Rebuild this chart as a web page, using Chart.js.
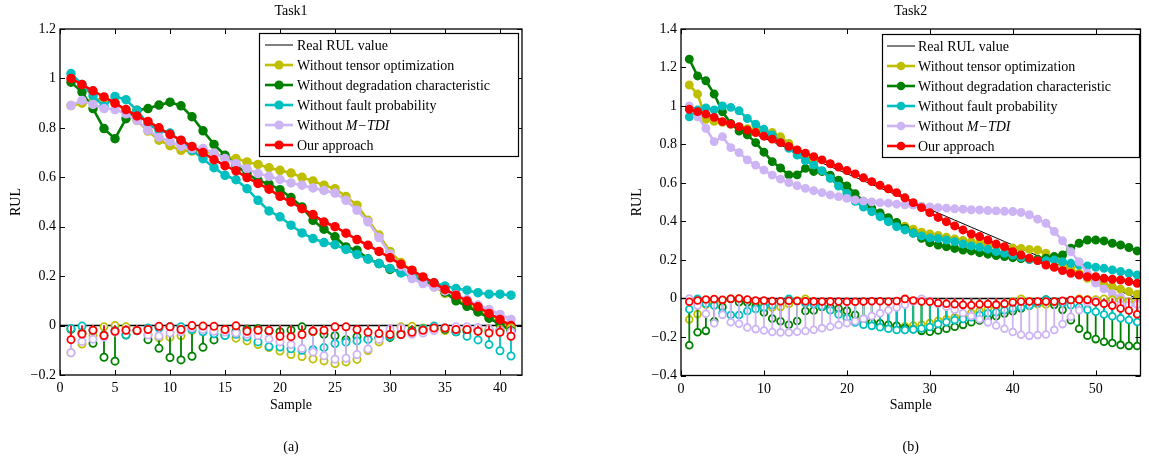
<!DOCTYPE html>
<html>
<head>
<meta charset="utf-8">
<script src="https://cdn.jsdelivr.net/npm/chart.js@4.4.1/dist/chart.umd.min.js"></script>
<style>
  html, body { margin: 0; padding: 0; background: #fff; }
  #wrap { position: relative; width: 1149px; height: 462px; overflow: hidden; }
  canvas { position: absolute; top: 0; }
</style>
</head>
<body>
<div id="wrap">
  <canvas id="task1" width="575" height="462" style="left:0px"></canvas>
  <canvas id="task2" width="574" height="462" style="left:575px"></canvas>
</div>
<script>
// ---------- Task1 data ----------
const task1Samples = [1,2,3,4,5,6,7,8,9,10,11,12,13,14,15,16,17,18,19,20,21,22,23,24,25,26,27,28,29,30,31,32,33,34,35,36,37,38,39,40,41];
const task1Real = [1.000,0.975,0.950,0.925,0.900,0.875,0.850,0.825,0.800,0.775,0.750,0.725,0.700,0.675,0.650,0.625,0.600,0.575,0.550,0.525,0.500,0.475,0.450,0.425,0.400,0.375,0.350,0.325,0.300,0.275,0.250,0.225,0.200,0.175,0.150,0.125,0.100,0.075,0.050,0.025,0.000];
const task1Tensor = [0.89,0.90,0.91,0.92,0.90,0.87,0.83,0.787,0.75,0.728,0.709,0.706,0.705,0.696,0.682,0.676,0.662,0.652,0.639,0.628,0.617,0.60,0.585,0.568,0.554,0.522,0.487,0.426,0.366,0.30,0.255,0.222,0.19,0.16,0.13,0.105,0.085,0.06,0.035,0.01,-0.01];
const task1Degrad = [0.985,0.945,0.878,0.797,0.756,0.837,0.871,0.878,0.892,0.904,0.889,0.845,0.788,0.733,0.689,0.648,0.615,0.588,0.572,0.55,0.518,0.48,0.426,0.39,0.359,0.318,0.305,0.27,0.251,0.227,0.22,0.205,0.18,0.16,0.135,0.10,0.078,0.055,0.03,0.005,-0.02];
const task1Fault = [1.02,0.975,0.93,0.887,0.927,0.914,0.87,0.815,0.79,0.779,0.745,0.709,0.675,0.639,0.608,0.59,0.554,0.507,0.464,0.44,0.406,0.375,0.352,0.336,0.327,0.308,0.288,0.269,0.251,0.231,0.213,0.20,0.187,0.173,0.16,0.15,0.143,0.133,0.127,0.127,0.123];
const task1Mtdi = [0.89,0.911,0.895,0.878,0.874,0.857,0.83,0.79,0.762,0.745,0.725,0.716,0.716,0.698,0.676,0.655,0.635,0.615,0.604,0.591,0.577,0.568,0.557,0.547,0.536,0.507,0.467,0.42,0.356,0.29,0.24,0.19,0.17,0.155,0.14,0.125,0.105,0.083,0.065,0.045,0.025];
const task1Ours = [1.0,0.975,0.95,0.925,0.90,0.874,0.848,0.826,0.80,0.774,0.75,0.725,0.70,0.671,0.647,0.626,0.599,0.575,0.552,0.523,0.50,0.473,0.449,0.419,0.40,0.374,0.348,0.325,0.30,0.274,0.248,0.224,0.197,0.173,0.146,0.123,0.099,0.076,0.049,0.025,0.0];

// prediction errors (stems)
const task1TensorErr = [-0.11,-0.075,-0.04,-0.005,0,-0.005,-0.02,-0.038,-0.05,-0.047,-0.041,-0.019,-0.005,-0.021,-0.032,-0.051,-0.062,-0.077,-0.089,-0.103,-0.117,-0.125,-0.135,-0.143,-0.154,-0.147,-0.137,-0.101,-0.066,-0.025,-0.005,-0.003,-0.01,-0.015,-0.02,-0.02,-0.015,-0.015,-0.015,-0.015,-0.01];
const task1DegradErr = [-0.015,-0.03,-0.072,-0.128,-0.144,-0.038,-0.021,-0.057,-0.092,-0.129,-0.139,-0.124,-0.088,-0.058,-0.039,-0.023,-0.015,-0.013,-0.022,-0.025,-0.018,-0.005,-0.024,-0.035,-0.041,-0.057,-0.045,-0.055,-0.049,-0.048,-0.03,-0.02,-0.02,-0.015,-0.015,-0.025,-0.022,-0.02,-0.02,-0.02,-0.02];
const task1FaultErr = [-0.012,-0.002,-0.02,-0.038,-0.02,-0.037,-0.02,-0.01,-0.01,-0.004,-0.005,-0.016,-0.025,-0.033,-0.04,-0.035,-0.046,-0.066,-0.085,-0.087,-0.094,-0.1,-0.098,-0.089,-0.073,-0.067,-0.062,-0.056,-0.049,-0.044,-0.037,-0.025,-0.013,-0.002,-0.01,-0.025,-0.043,-0.058,-0.077,-0.102,-0.123];
const task1MtdiErr = [-0.11,-0.064,-0.055,-0.047,-0.026,-0.018,-0.02,-0.038,-0.042,-0.03,-0.025,-0.009,-0.016,-0.023,-0.026,-0.03,-0.035,-0.04,-0.054,-0.066,-0.077,-0.093,-0.107,-0.122,-0.136,-0.132,-0.117,-0.095,-0.056,-0.015,-0.01,-0.035,-0.03,-0.02,-0.01,-0.005,-0.005,-0.008,-0.015,-0.02,-0.025];
const task1OursErr = [-0.057,-0.034,-0.019,-0.04,-0.023,-0.019,-0.02,-0.016,-0.003,-0.005,-0.016,0,-0.002,-0.003,-0.016,-0.001,-0.023,-0.019,-0.02,-0.043,-0.045,-0.036,-0.023,-0.019,-0.005,-0.005,-0.016,-0.027,-0.032,-0.036,-0.036,-0.027,-0.019,-0.01,-0.01,-0.016,-0.016,-0.023,-0.03,-0.027,-0.043];

const task1XTicks = [0,5,10,15,20,25,30,35,40];
const task1YTicks = [-0.2,0,0.2,0.4,0.6,0.8,1,1.2];

// ---------- Task2 data ----------
const task2Samples = [1,2,3,4,5,6,7,8,9,10,11,12,13,14,15,16,17,18,19,20,21,22,23,24,25,26,27,28,29,30,31,32,33,34,35,36,37,38,39,40,41,42,43,44,45,46,47,48,49,50,51,52,53,54,55];
const task2Real = [1.000,0.981,0.963,0.944,0.926,0.907,0.889,0.870,0.852,0.833,0.815,0.796,0.778,0.759,0.741,0.722,0.704,0.685,0.667,0.648,0.630,0.611,0.593,0.574,0.556,0.537,0.519,0.500,0.481,0.463,0.444,0.426,0.407,0.389,0.370,0.352,0.333,0.315,0.296,0.278,0.259,0.241,0.222,0.204,0.185,0.167,0.148,0.130,0.111,0.093,0.074,0.056,0.037,0.019,0.000];
const task2Tensor = [1.109,1.062,0.931,0.92,0.915,0.905,0.89,0.882,0.875,0.87,0.862,0.84,0.806,0.77,0.74,0.70,0.66,0.625,0.59,0.555,0.515,0.49,0.465,0.44,0.415,0.392,0.375,0.36,0.345,0.335,0.328,0.318,0.31,0.302,0.295,0.287,0.28,0.273,0.266,0.262,0.26,0.255,0.252,0.235,0.209,0.183,0.157,0.131,0.105,0.087,0.075,0.062,0.048,0.036,0.022];
const task2Degrad = [1.243,1.156,1.131,1.062,0.97,0.91,0.87,0.85,0.81,0.76,0.711,0.678,0.642,0.642,0.676,0.66,0.66,0.64,0.615,0.585,0.545,0.505,0.47,0.445,0.42,0.395,0.365,0.34,0.313,0.29,0.278,0.269,0.26,0.252,0.247,0.238,0.23,0.223,0.218,0.212,0.207,0.203,0.204,0.209,0.218,0.226,0.261,0.287,0.304,0.304,0.299,0.287,0.278,0.265,0.247];
const task2Fault = [0.944,0.979,0.99,0.98,1.0,0.993,0.975,0.935,0.906,0.879,0.85,0.81,0.78,0.745,0.716,0.694,0.664,0.624,0.584,0.546,0.505,0.475,0.451,0.425,0.399,0.373,0.356,0.339,0.325,0.315,0.312,0.304,0.295,0.283,0.273,0.266,0.256,0.244,0.235,0.226,0.214,0.204,0.197,0.197,0.2,0.191,0.183,0.174,0.169,0.162,0.157,0.148,0.14,0.131,0.122];
const task2Mtdi = [1.0,0.944,0.884,0.815,0.841,0.784,0.758,0.72,0.693,0.667,0.641,0.62,0.602,0.586,0.572,0.56,0.55,0.538,0.529,0.52,0.512,0.506,0.502,0.498,0.495,0.49,0.487,0.485,0.48,0.476,0.472,0.469,0.466,0.464,0.461,0.46,0.457,0.455,0.453,0.452,0.447,0.435,0.412,0.391,0.348,0.3,0.243,0.191,0.131,0.08,0.05,0.025,0.005,-0.015,-0.03];
const task2Ours = [0.983,0.971,0.958,0.941,0.919,0.906,0.893,0.875,0.862,0.843,0.828,0.81,0.79,0.772,0.755,0.737,0.72,0.70,0.683,0.665,0.647,0.627,0.607,0.588,0.57,0.55,0.523,0.498,0.472,0.446,0.421,0.399,0.377,0.356,0.335,0.322,0.304,0.283,0.269,0.243,0.226,0.209,0.197,0.174,0.162,0.145,0.131,0.122,0.113,0.113,0.105,0.1,0.096,0.088,0.079];

const task2TensorErr = [-0.109,-0.081,-0.032,-0.024,-0.011,-0.002,-0.001,-0.012,-0.023,-0.037,-0.047,-0.044,-0.028,-0.011,-0.001,-0.022,-0.044,-0.06,-0.077,-0.093,-0.115,-0.121,-0.128,-0.134,-0.141,-0.145,-0.144,-0.14,-0.136,-0.128,-0.116,-0.108,-0.097,-0.087,-0.075,-0.065,-0.053,-0.042,-0.03,-0.016,-0.001,-0.014,-0.03,-0.031,-0.024,-0.016,-0.009,-0.001,-0.006,-0.006,-0.001,-0.006,-0.011,-0.017,-0.022];
const task2DegradErr = [-0.243,-0.175,-0.168,-0.118,-0.044,-0.003,-0.019,-0.02,-0.042,-0.073,-0.104,-0.118,-0.136,-0.117,-0.065,-0.062,-0.044,-0.045,-0.052,-0.063,-0.085,-0.106,-0.123,-0.129,-0.136,-0.142,-0.154,-0.16,-0.168,-0.173,-0.166,-0.157,-0.147,-0.137,-0.123,-0.114,-0.103,-0.092,-0.078,-0.066,-0.052,-0.038,-0.018,-0.005,-0.033,-0.059,-0.113,-0.157,-0.193,-0.211,-0.225,-0.231,-0.241,-0.246,-0.247];
const task2FaultErr = [-0.056,-0.002,-0.027,-0.036,-0.074,-0.086,-0.086,-0.065,-0.054,-0.046,-0.035,-0.014,-0.002,-0.014,-0.025,-0.028,-0.04,-0.061,-0.083,-0.102,-0.125,-0.136,-0.142,-0.149,-0.157,-0.164,-0.163,-0.161,-0.156,-0.148,-0.132,-0.122,-0.112,-0.106,-0.097,-0.086,-0.077,-0.071,-0.061,-0.052,-0.045,-0.037,-0.025,-0.007,-0.015,-0.024,-0.035,-0.044,-0.058,-0.069,-0.083,-0.092,-0.103,-0.112,-0.122];
const task2MtdiErr = [0,-0.037,-0.079,-0.129,-0.085,-0.123,-0.131,-0.15,-0.159,-0.166,-0.174,-0.176,-0.176,-0.173,-0.169,-0.162,-0.154,-0.147,-0.138,-0.128,-0.118,-0.105,-0.091,-0.076,-0.061,-0.047,-0.032,-0.015,-0.001,-0.013,-0.028,-0.043,-0.059,-0.075,-0.091,-0.108,-0.124,-0.14,-0.157,-0.174,-0.188,-0.194,-0.19,-0.187,-0.163,-0.133,-0.095,-0.061,-0.02,-0.013,-0.024,-0.031,-0.032,-0.034,-0.03];
const task2OursErr = [-0.017,-0.01,-0.005,-0.003,-0.007,-0.001,0,-0.005,-0.01,-0.01,-0.013,-0.014,-0.012,-0.013,-0.014,-0.015,-0.016,-0.015,-0.016,-0.017,-0.017,-0.016,-0.014,-0.014,-0.016,-0.013,-0.002,-0.01,-0.016,-0.017,-0.023,-0.027,-0.03,-0.033,-0.035,-0.03,-0.029,-0.032,-0.027,-0.02,-0.016,-0.016,-0.016,-0.016,-0.016,-0.012,-0.008,-0.006,-0.007,-0.018,-0.027,-0.037,-0.052,-0.062,-0.082];

const task2XTicks = [0,10,20,30,40,50];
const task2YTicks = [-0.4,-0.2,0,0.2,0.4,0.6,0.8,1,1.2,1.4];

// ---------- styling ----------
const FONT = '"Liberation Serif", "Times New Roman", serif';
const COLORS = {
  real: '#000000',
  tensor: '#bfbf00',
  degrad: '#008000',
  fault: '#00bfbf',
  mtdi: '#cdb4f5',
  ours: '#ff0000'
};
const LEGEND_ITEMS = [
  { key: 'real', parts: [['Real RUL value', false]], marker: false },
  { key: 'tensor', parts: [['Without tensor optimization', false]], marker: true },
  { key: 'degrad', parts: [['Without degradation characteristic', false]], marker: true },
  { key: 'fault', parts: [['Without fault probability', false]], marker: true },
  { key: 'mtdi', parts: [['Without ', false], ['M\u2212TDI', true]], marker: true },
  { key: 'ours', parts: [['Our approach', false]], marker: true }
];

function fmtTick(v) {
  return (+Number(v).toFixed(1)).toString().replace('-', '\u2212');
}

function points(xs, ys) {
  return xs.map((x, i) => ({ x: x, y: ys[i] }));
}

// stem: baseline point, tip point, gap
function stems(xs, ys) {
  const out = [];
  xs.forEach((x, i) => {
    out.push({ x: x, y: 0 });
    out.push({ x: x, y: ys[i] });
    out.push({ x: x, y: null });
  });
  return out;
}

function makeChart(id, cfg) {
  const lineDs = (key, ys, order) => ({
    type: 'line',
    data: points(cfg.samples, ys),
    borderColor: COLORS[key],
    backgroundColor: COLORS[key],
    borderWidth: cfg.lineWidth,
    pointRadius: cfg.markerRadius,
    pointBorderWidth: 1.5,
    pointBackgroundColor: COLORS[key],
    pointBorderColor: COLORS[key],
    tension: 0,
    order: order
  });
  const stemDs = (key, ys, order) => ({
    type: 'line',
    data: stems(cfg.samples, ys),
    borderColor: COLORS[key],
    borderWidth: 1.8,
    spanGaps: false,
    pointRadius: (c) => (c.dataIndex % 3 === 1 ? cfg.stemRadius : 0),
    pointBorderWidth: 1.8,
    pointBackgroundColor: '#ffffff',
    pointBorderColor: COLORS[key],
    order: order
  });

  const datasets = [
    { type: 'line', data: points(cfg.samples, cfg.real), borderColor: '#000', borderWidth: 1, pointRadius: 0, order: 20 },
    lineDs('tensor', cfg.tensor, 19),
    lineDs('degrad', cfg.degrad, 18),
    lineDs('fault', cfg.fault, 17),
    lineDs('mtdi', cfg.mtdi, 16),
    lineDs('ours', cfg.ours, 15),
    stemDs('tensor', cfg.tensorErr, 14),
    stemDs('degrad', cfg.degradErr, 13),
    stemDs('fault', cfg.faultErr, 12),
    stemDs('mtdi', cfg.mtdiErr, 11),
    stemDs('ours', cfg.oursErr, 10)
  ];

  const decor = {
    id: 'decor_' + id,
    beforeDatasetsDraw(chart) {
      const { ctx, chartArea: a, scales: { y } } = chart;
      const y0 = y.getPixelForValue(0);
      ctx.save();
      ctx.strokeStyle = '#000';
      ctx.lineWidth = 1.5;
      ctx.beginPath();
      ctx.moveTo(a.left, y0);
      ctx.lineTo(a.right, y0);
      ctx.stroke();
      ctx.restore();
    },
    afterDraw(chart) {
      const { ctx, chartArea: a, scales: { x, y } } = chart;
      ctx.save();
      // axes box and inward ticks
      ctx.strokeStyle = '#000';
      ctx.lineWidth = 1.3;
      ctx.strokeRect(a.left, a.top, a.right - a.left, a.bottom - a.top);
      ctx.lineWidth = 1;
      ctx.beginPath();
      x.ticks.forEach(t => {
        const px = Math.round(x.getPixelForValue(t.value)) + 0.5;
        ctx.moveTo(px, a.bottom); ctx.lineTo(px, a.bottom - 5);
        ctx.moveTo(px, a.top); ctx.lineTo(px, a.top + 5);
      });
      y.ticks.forEach(t => {
        const py = Math.round(y.getPixelForValue(t.value)) + 0.5;
        ctx.moveTo(a.left, py); ctx.lineTo(a.left + 5, py);
        ctx.moveTo(a.right, py); ctx.lineTo(a.right - 5, py);
      });
      ctx.stroke();

      // legend
      const L = cfg.legend;
      ctx.fillStyle = '#fff';
      ctx.fillRect(L.x, L.y, L.w, L.h);
      ctx.strokeStyle = '#000';
      ctx.lineWidth = 1.2;
      ctx.strokeRect(L.x + 0.5, L.y + 0.5, L.w, L.h);
      ctx.textBaseline = 'middle';
      ctx.textAlign = 'left';
      LEGEND_ITEMS.forEach((item, i) => {
        const ry = L.y + 12 + i * 20;
        const c = COLORS[item.key];
        ctx.strokeStyle = c;
        ctx.lineWidth = item.marker ? cfg.lineWidth : 1;
        ctx.beginPath();
        ctx.moveTo(L.x + L.lineX0, ry);
        ctx.lineTo(L.x + L.lineX1, ry);
        ctx.stroke();
        if (item.marker) {
          ctx.fillStyle = c;
          ctx.beginPath();
          ctx.arc(L.x + (L.lineX0 + L.lineX1) / 2, ry, cfg.markerRadius + 0.6, 0, Math.PI * 2);
          ctx.fill();
        }
        ctx.fillStyle = '#000';
        let tx = L.x + L.textX;
        item.parts.forEach(([txt, ital]) => {
          ctx.font = (ital ? 'italic ' : '') + '14px ' + FONT;
          ctx.fillText(txt, tx, ry + 1);
          tx += ctx.measureText(txt).width;
        });
      });

      // titles and labels
      const cx = (a.left + a.right) / 2;
      ctx.fillStyle = '#000';
      ctx.textAlign = 'center';
      ctx.textBaseline = 'middle';
      ctx.font = '14px ' + FONT;
      ctx.fillText(cfg.title, cx, 11);
      ctx.fillText('Sample', cx, 405);
      ctx.fillText(cfg.caption, cx, 447);
      ctx.save();
      ctx.translate(cfg.yTitleX, (a.top + a.bottom) / 2);
      ctx.rotate(-Math.PI / 2);
      ctx.fillText('RUL', 0, 0);
      ctx.restore();
      ctx.restore();
    }
  };

  return new Chart(document.getElementById(id), {
    data: { datasets: datasets },
    options: {
      responsive: false,
      animation: false,
      events: [],
      layout: { padding: { left: 0, top: cfg.areaTop, right: cfg.padRight, bottom: 0 } },
      plugins: { legend: { display: false }, tooltip: { enabled: false }, title: { display: false } },
      scales: {
        x: {
          type: 'linear',
          min: 0,
          max: cfg.xMax,
          afterBuildTicks: s => { s.ticks = cfg.xTicks.map(v => ({ value: v })); },
          afterFit: s => { s.height = cfg.xAxisHeight; },
          grid: { display: false, drawTicks: false },
          border: { display: false },
          ticks: { color: '#000', font: { family: FONT, size: 14 }, padding: 5, maxRotation: 0, autoSkip: false, callback: v => String(v) }
        },
        y: {
          type: 'linear',
          min: cfg.yMin,
          max: cfg.yMax,
          afterBuildTicks: s => { s.ticks = cfg.yTicks.map(v => ({ value: v })); },
          afterFit: s => { s.width = cfg.yAxisWidth; },
          grid: { display: false, drawTicks: false },
          border: { display: false },
          ticks: { color: '#000', font: { family: FONT, size: 14 }, padding: 4, autoSkip: false, callback: v => fmtTick(v) }
        }
      }
    },
    plugins: [decor]
  });
}

makeChart('task1', {
  samples: task1Samples, real: task1Real,
  tensor: task1Tensor, degrad: task1Degrad, fault: task1Fault, mtdi: task1Mtdi, ours: task1Ours,
  tensorErr: task1TensorErr, degradErr: task1DegradErr, faultErr: task1FaultErr, mtdiErr: task1MtdiErr, oursErr: task1OursErr,
  xTicks: task1XTicks, yTicks: task1YTicks,
  xMax: 42, yMin: -0.2, yMax: 1.2,
  areaTop: 29, padRight: 53, xAxisHeight: 87, yAxisWidth: 60,
  lineWidth: 2.6, markerRadius: 4, stemRadius: 3.6,
  legend: { x: 259, y: 33, w: 259, h: 123, lineX0: 6, lineX1: 34, textX: 38 },
  title: 'Task1', caption: '(a)', yTitleX: 16
});

makeChart('task2', {
  samples: task2Samples, real: task2Real,
  tensor: task2Tensor, degrad: task2Degrad, fault: task2Fault, mtdi: task2Mtdi, ours: task2Ours,
  tensorErr: task2TensorErr, degradErr: task2DegradErr, faultErr: task2FaultErr, mtdiErr: task2MtdiErr, oursErr: task2OursErr,
  xTicks: task2XTicks, yTicks: task2YTicks,
  xMax: 55.4, yMin: -0.4, yMax: 1.4,
  areaTop: 29, padRight: 8.5, xAxisHeight: 86.5, yAxisWidth: 106,
  lineWidth: 2.6, markerRadius: 3.7, stemRadius: 3.4,
  legend: { x: 307, y: 34, w: 257, h: 123, lineX0: 5, lineX1: 33, textX: 36 },
  title: 'Task2', caption: '(b)', yTitleX: 62
});
</script>
</body>
</html>
